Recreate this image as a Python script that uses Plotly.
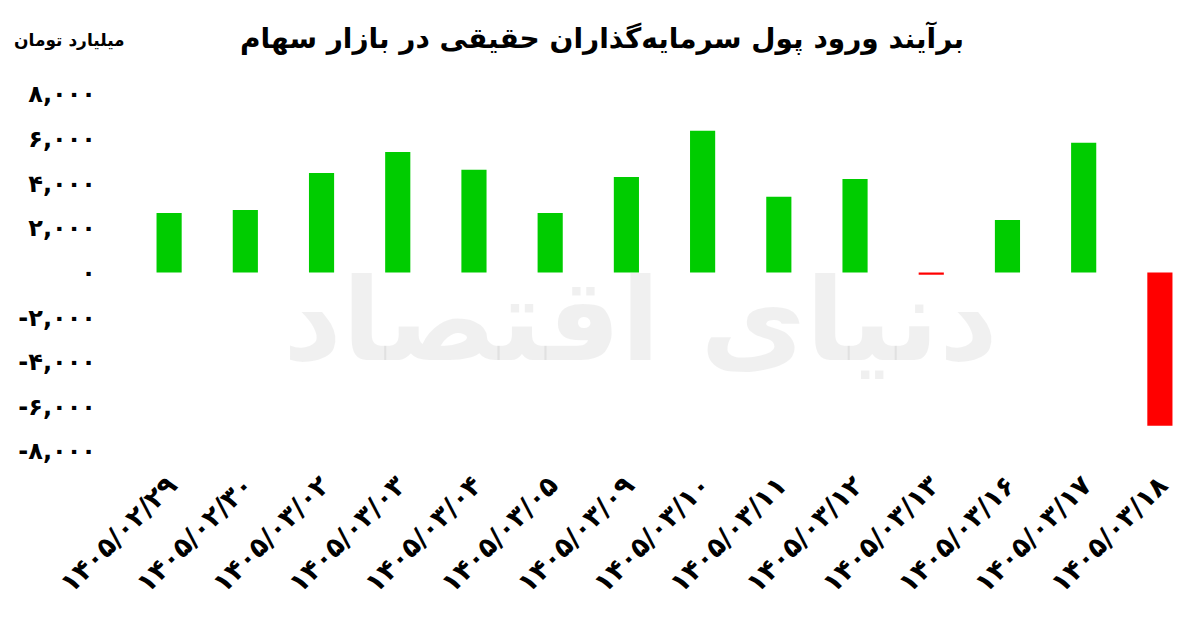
import plotly.graph_objects as go

categories = ["۱۴۰۵/۰۲/۲۹", "۱۴۰۵/۰۲/۳۰", "۱۴۰۵/۰۳/۰۲", "۱۴۰۵/۰۳/۰۳", "۱۴۰۵/۰۳/۰۴",
              "۱۴۰۵/۰۳/۰۵", "۱۴۰۵/۰۳/۰۹", "۱۴۰۵/۰۳/۱۰", "۱۴۰۵/۰۳/۱۱", "۱۴۰۵/۰۳/۱۲",
              "۱۴۰۵/۰۳/۱۳", "۱۴۰۵/۰۳/۱۶", "۱۴۰۵/۰۳/۱۷", "۱۴۰۵/۰۳/۱۸"]
values = [2670, 2800, 4460, 5400, 4600, 2670, 4280, 6350, 3390, 4190, -100, 2350, 5810, -6870]
tick_vals = [-8000, -6000, -4000, -2000, 0, 2000, 4000, 6000, 8000]
tick_text = ["-۸,۰۰۰", "-۶,۰۰۰", "-۴,۰۰۰", "-۲,۰۰۰", "۰", "۲,۰۰۰", "۴,۰۰۰", "۶,۰۰۰", "۸,۰۰۰"]
title_text = "برآیند ورود پول سرمایه‌گذاران حقیقی در بازار سهام"
unit_text = "میلیارد تومان"
watermark_text = "دنیای اقتصاد"

colors = ["#00cc00" if v >= 0 else "#ff0000" for v in values]

FONT = "DejaVu Sans"
W, H = 1200, 626
ML, MR, MT, MB = 123, 10, 86, 183
PW = W - ML - MR
PH = H - MT - MB

fig = go.Figure(go.Bar(x=categories, y=values, marker_color=colors, marker_line_width=0))

fig.update_layout(
    width=W, height=H,
    paper_bgcolor="white", plot_bgcolor="white",
    margin=dict(l=ML, r=MR, t=MT, b=MB, autoexpand=False),
    bargap=0.67,
    showlegend=False,
    font=dict(family=FONT, color="black"),
    title=dict(text="<b>" + title_text + "</b>", x=594 / W, xref="container", xanchor="center",
               y=1 - 30 / H, yref="container", yanchor="middle",
               font=dict(family=FONT, size=28, color="black")),
    xaxis=dict(type="category", tickangle=-45, showgrid=False, zeroline=False, showline=False,
               ticks="", ticklabelstandoff=12,
               tickfont=dict(family=FONT, size=27, color="black", weight="bold")),
    yaxis=dict(range=[-8000, 8000], tickvals=tick_vals, ticktext=tick_text,
               showgrid=False, zeroline=False, showline=False, ticks="", ticklabelstandoff=34,
               tickfont=dict(family=FONT, size=24, color="black", weight="bold")),
    annotations=[
        dict(text="<b>" + unit_text + "</b>", x=(4 - ML) / PW, y=(PH + MT - 32) / PH,
             xref="paper", yref="paper",
             showarrow=False, xanchor="left", yanchor="middle",
             font=dict(family=FONT, size=17, color="black")),
        dict(text="<b>" + watermark_text + "</b>", x=(632 - ML) / PW, y=(PH + MT - 312) / PH,
             xref="paper", yref="paper",
             showarrow=False, xanchor="center", yanchor="middle",
             font=dict(family=FONT, size=115, color="rgba(0,0,0,0.06)")),
    ],
)

fig.write_html("out.html")
